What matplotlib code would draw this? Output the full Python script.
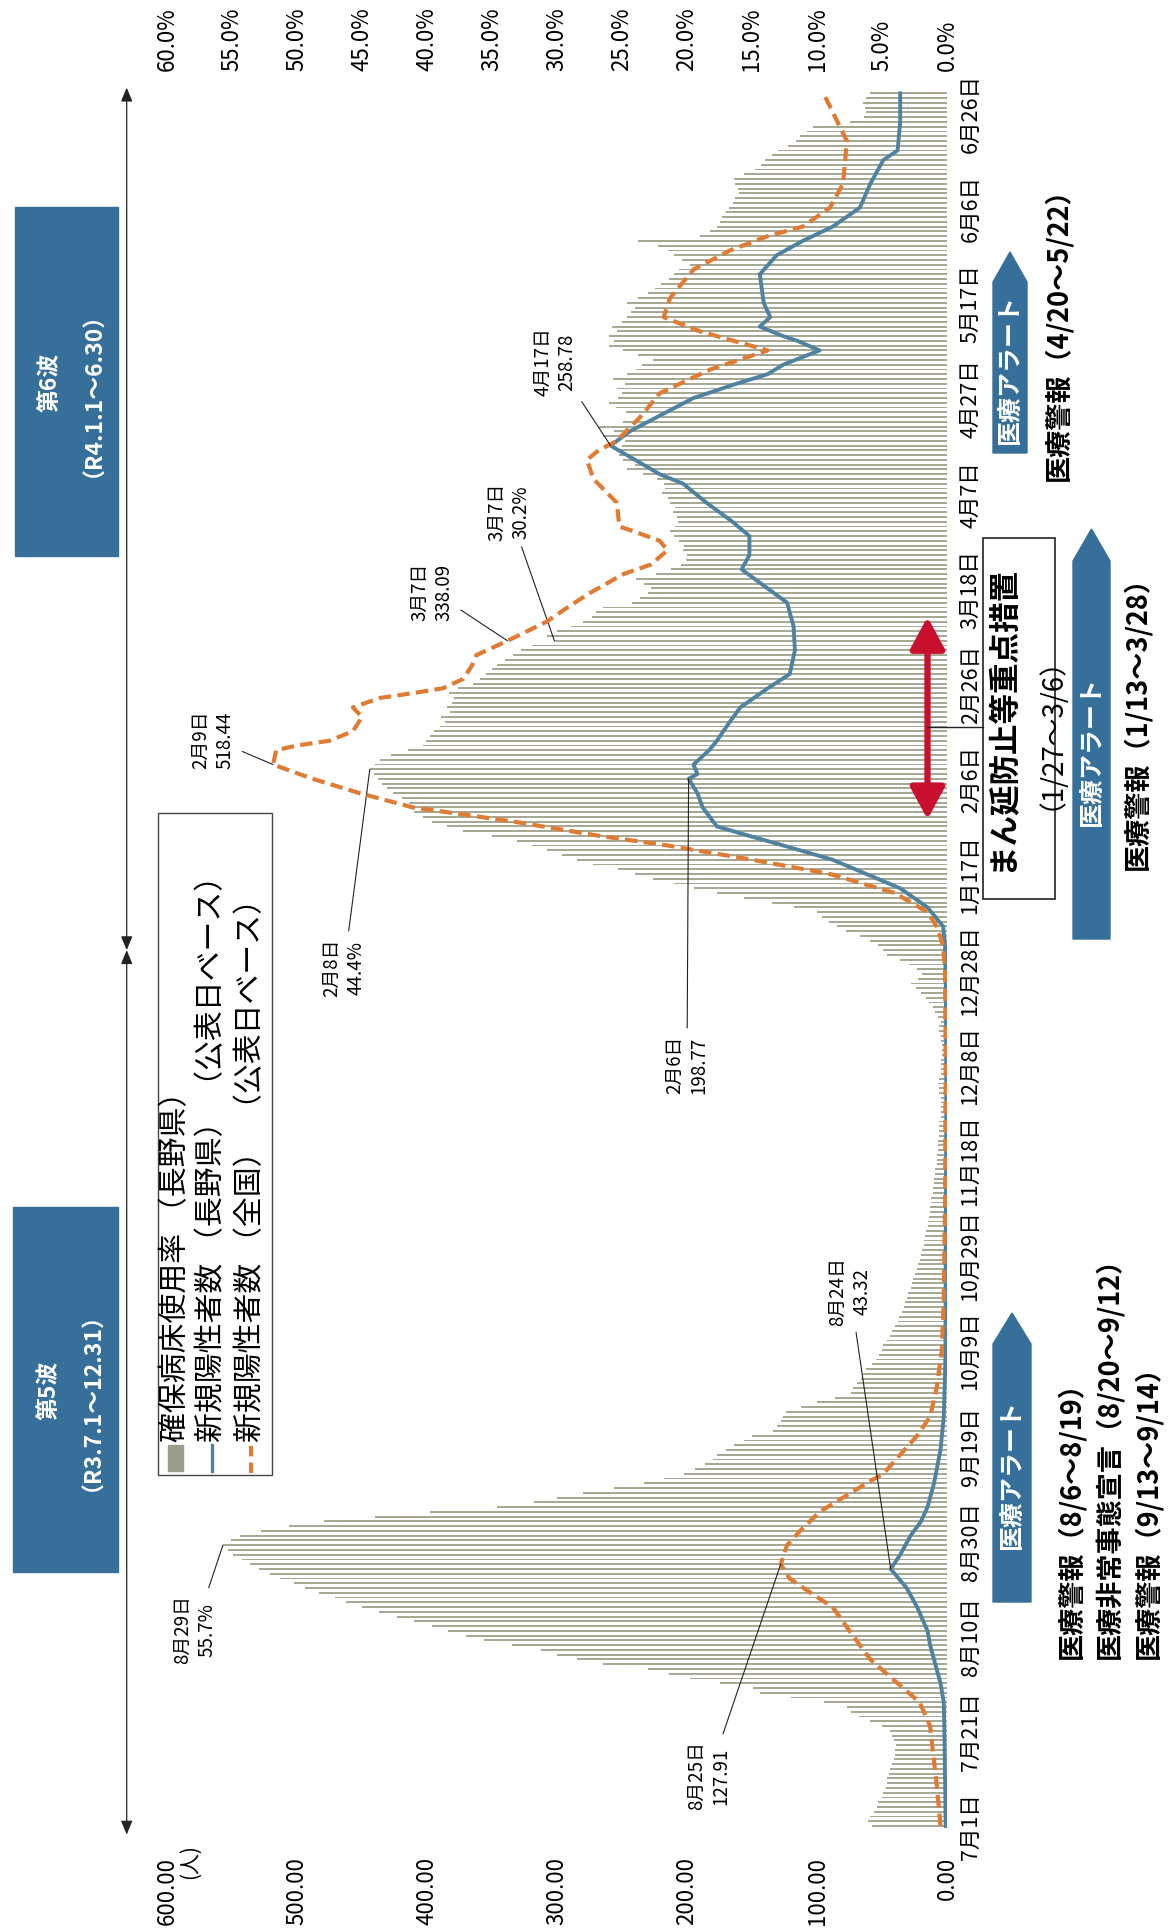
import numpy as np
import matplotlib
matplotlib.use("Agg")
import matplotlib.pyplot as plt
from matplotlib.patches import Polygon, Rectangle, ArrowStyle
from matplotlib.lines import Line2D

plt.rcParams['font.family'] = ['Noto Sans CJK JP', 'DejaVu Sans']

# ---- data (day 0 = 2021-07-01) ----
tick_days = list(range(0, 361, 20))
tick_labels = ['7月1日', '7月21日', '8月10日', '8月30日', '9月19日', '10月9日',
               '10月29日', '11月18日', '12月8日', '12月28日', '1月17日', '2月6日',
               '2月26日', '3月18日', '4月7日', '4月27日', '5月17日', '6月6日', '6月26日']

# 確保病床使用率 (%), daily
bed_rate = [
    5.8, 6.1, 5.9, 5.6, 5.4, 5.3, 5.0, 4.9, 4.7, 4.6,
    4.6, 4.5, 4.4, 4.2, 4.1, 4.0, 4.0, 3.9, 4.1, 4.2,
    4.4, 5.0, 5.9, 6.8, 7.4, 7.7, 9.5, 12.0, 14.4, 14.9,
    17.5, 19.8, 21.4, 23.0, 26.5, 28.5, 30.0, 31.2, 33.5, 35.6,
    37.0, 38.4, 39.6, 41.0, 42.3, 43.7, 45.0, 46.2, 47.1, 48.3,
    49.4, 50.2, 51.3, 52.1, 52.9, 53.6, 54.2, 54.9, 55.3, 55.7,
    55.1, 54.4, 52.8, 50.6, 47.9, 44.0, 39.8, 34.6, 31.8, 30.0,
    28.0, 25.6, 23.3, 21.8, 20.2, 19.4, 18.6, 18.0, 17.7, 17.0,
    16.4, 15.6, 15.0, 13.4, 13.1, 12.8, 12.6, 12.4, 11.2, 10.0,
    8.6, 7.4, 7.2, 6.9, 6.6, 6.5, 6.2, 5.8, 5.5, 5.2,
    5.0, 4.9, 4.6, 4.4, 4.2, 4.0, 3.8, 3.7, 3.5, 3.3,
    3.2, 3.1, 3.0, 2.8, 2.7, 2.6, 2.5, 2.3, 2.2, 2.1,
    2.0, 1.9, 1.8, 1.8, 1.7, 1.6, 1.5, 1.5, 1.4, 1.3,
    1.3, 1.2, 1.2, 1.1, 1.1, 1.0, 1.0, 0.9, 0.9, 0.8,
    0.8, 0.8, 0.7, 0.7, 0.7, 0.6, 0.6, 0.6, 0.6, 0.5,
    0.5, 0.5, 0.5, 0.5, 0.6, 0.6, 0.7, 0.6, 0.5, 0.5,
    0.5, 0.5, 0.4, 0.4, 0.4, 0.5, 0.5, 0.6, 0.6, 0.5,
    0.7, 0.9, 1.1, 1.4, 1.6, 2.0, 2.4, 2.8, 2.2, 1.9,
    2.3, 2.9, 3.6, 4.6, 4.9, 5.3, 5.9, 6.7, 7.8, 8.5,
    9.1, 9.6, 10.0, 11.8, 13.5, 15.6, 17.7, 19.5, 21.0, 22.6,
    24.0, 25.3, 27.2, 28.5, 29.6, 30.8, 31.9, 33.1, 35.0, 37.2,
    38.5, 39.6, 40.3, 41.0, 41.2, 41.4, 41.9, 42.6, 43.1, 43.5,
    43.8, 44.1, 44.4, 44.0, 43.6, 42.8, 41.5, 40.3, 40.1, 39.8,
    39.5, 39.0, 38.6, 38.9, 38.2, 38.5, 38.1, 37.9, 38.3, 37.6,
    36.5, 35.9, 35.5, 35.0, 34.6, 34.0, 33.4, 32.8, 31.9, 30.2,
    30.8, 30.0, 28.9, 28.0, 27.3, 27.0, 26.5, 24.2, 23.6, 23.0,
    22.8, 23.3, 23.9, 22.4, 21.2, 20.5, 20.1, 20.0, 20.3, 20.2,
    20.6, 21.0, 21.3, 20.9, 20.7, 20.8, 21.1, 20.9, 21.3, 21.5,
    21.9, 21.7, 21.8, 22.3, 23.4, 24.6, 24.0, 24.9, 25.2, 25.4,
    25.0, 24.8, 26.5, 25.6, 26.8, 24.9, 22.0, 24.7, 25.5, 26.0,
    25.3, 25.0, 25.4, 24.8, 25.7, 24.6, 23.9, 23.5, 22.6, 23.8,
    24.9, 26.0, 25.6, 26.0, 25.4, 25.8, 25.0, 24.6, 24.3, 24.0,
    24.6, 23.8, 23.0, 22.5, 22.0, 21.4, 21.0, 20.6, 19.8, 20.4,
    21.0, 21.5, 22.2, 23.8, 19.0, 18.2, 17.7, 17.5, 17.3, 17.0,
    16.8, 16.5, 16.3, 16.0, 16.1, 16.3, 16.4, 15.6, 14.8, 14.3,
    14.0, 13.5, 13.0, 12.2, 11.6, 11.3, 10.8, 10.3, 7.5, 6.4,
    6.2, 6.3, 6.5, 6.2, 5.9,
]

# 新規陽性者数（長野県）readings
nagano_days = [0, 10, 20, 26, 30, 34, 38, 41, 46, 50, 54, 57, 61, 64, 67, 72, 79, 86,
               95, 100, 120, 150, 175, 185, 189, 193, 197, 200, 203, 206, 208, 210,
               214, 217, 220, 221, 223, 226, 228, 232, 235, 239, 242, 247, 252, 257,
               260, 264, 267, 271, 274, 278, 282, 284, 290, 293, 296, 300, 303, 305,
               307, 310, 312, 313, 315, 317, 320, 326, 330, 333, 336, 340, 345, 350,
               352, 358, 364]
nagano_vals = [1, 1.5, 2, 2.5, 5, 9, 13, 15, 23, 31, 43.32, 36, 28, 20, 15, 10, 5, 2.5,
               1.5, 1.2, 1, 0.5, 0.8, 1.5, 3, 15, 36, 62, 88, 126, 152, 177,
               188, 192, 198.77, 192, 195, 183, 177, 167, 159, 138, 121, 117, 118, 123,
               138, 158, 152, 152, 165, 185, 203, 221, 258.78, 244, 223, 195, 162, 138,
               126, 98, 115, 126, 144, 136, 141, 144, 131, 111, 88, 67, 59, 49,
               38, 36, 36]

# 新規陽性者数（全国）readings
japan_days = [0, 9, 16, 21, 26, 30, 35, 41, 46, 49, 52, 55, 59, 62, 66, 69, 72, 74, 78,
              82, 86, 92, 100, 110, 130, 160, 180, 185, 189, 192, 196, 200, 203, 206,
              208, 211, 214, 217, 220, 223, 226, 227, 228, 230, 233, 235, 237, 238, 239,
              241, 244, 246, 249, 253, 256, 259, 263, 265, 268, 270, 272, 273, 278, 283,
              287, 289, 291, 296, 301, 306, 310, 314, 317, 321, 327, 331, 334, 336, 340,
              345, 354, 364]
japan_vals = [5, 8, 11, 13, 21, 38, 59, 75, 88, 105, 121, 127.91, 123, 113, 98, 80, 62, 49, 36,
              23, 13, 8, 4, 2.5, 1.5, 1, 1.5, 3, 8, 15, 40, 90, 150, 215,
              267, 333, 411, 452, 488, 518.44, 516, 500, 475, 457, 450, 457, 436, 411, 388,
              372, 365, 362, 338.09, 308, 292, 275, 249, 228, 215, 221, 241, 252, 254, 272,
              277, 268, 254, 236, 221, 182, 138, 190, 218, 213, 195, 167, 138, 111, 90,
              80, 77, 95]

# ---- layout helpers (pixel coords of the 1168x1933 page) ----
W, H = 1168, 1933
BLUE_BOX = '#36709a'
BAR_C = '#a6a994'
NAGANO_C = '#4f82a0'
JAPAN_C = '#e07b33'


def fp(x, y):
    return (x / W, 1 - y / H)


fig = plt.figure(figsize=(W / 100, H / 100), dpi=100)
ax = fig.add_axes([167 / W, 1 - 1829.4 / H, 780 / W, (1829.4 - 92) / H])
ax2 = ax.twiny()

# bars: bed occupancy (%), top scale
days = np.arange(len(bed_rate))
ax.barh(days, bed_rate, height=0.4, color=BAR_C, zorder=2)
ax.set_xlim(60, 0)
ax.set_ylim(-0.5, 364.5)
ax.xaxis.tick_top()
ax.set_xticks(np.arange(0, 61, 5))
ax.set_xticklabels(['{:.1f}%'.format(v) for v in np.arange(0, 61, 5)],
                   rotation=90, fontsize=16)
ax.set_xticks(np.arange(0, 61, 10), minor=True)
ax.tick_params(axis='x', which='both', length=0, pad=15)
ax.grid(which='minor', axis='x', color='#e3e1c4', lw=0.9, zorder=1)
ax.set_axisbelow(True)
ax.yaxis.tick_right()
ax.set_yticks(tick_days)
ax.set_yticklabels(tick_labels, rotation=90, va='center', fontsize=15.5)
ax.tick_params(axis='y', length=0, pad=9)

# lines: new positives, bottom scale
ax2.plot(nagano_vals, nagano_days, color=NAGANO_C, lw=2.8, zorder=4)
ax2.plot(japan_vals, japan_days, color=JAPAN_C, lw=3, ls=(0, (3, 1.5)), zorder=5)
ax2.set_xlim(600, 0)
ax2.xaxis.tick_bottom()
ax2.set_xticks(np.arange(0, 601, 100))
ax2.set_xticklabels(['{:.2f}'.format(v) for v in np.arange(0, 601, 100)],
                    rotation=90, fontsize=16)
ax2.tick_params(axis='x', length=0, pad=20)
for a in (ax, ax2):
    for s in a.spines.values():
        s.set_visible(False)

fig.text(*fp(190, 1862), '(人)', rotation=90, ha='center', va='center', fontsize=15)

# wave range arrows on the left
astyle = ArrowStyle('<|-|>', head_length=0.6, head_width=0.25)
for y0, y1 in ((184, 365.2), (184, -1.8)):
    ax2.annotate('', xy=(631, y1), xytext=(631, y0), annotation_clip=False,
                 arrowprops=dict(arrowstyle=astyle, color='#222222', lw=0.9,
                                 mutation_scale=14, shrinkA=0, shrinkB=0))

# wave boxes
for (x0, y0, x1, y1), txt in (((15, 208, 118, 557), '第6波\n（R4.1.1～6.30）'),
                              ((13, 1208, 118, 1573), '第5波\n（R3.7.1～12.31）')):
    fig.patches.append(Rectangle(fp(x0, y1), (x1 - x0) / W, (y1 - y0) / H,
                                 transform=fig.transFigure, color=BLUE_BOX))
    fig.text(*fp((x0 + x1) / 2, (y0 + y1) / 2), txt, rotation=90, ha='center',
             va='center', ma='center', color='white', fontsize=16.5, fontweight='bold',
             linespacing=1.5)

# legend (drawn by hand, rotated)
fig.patches.append(Rectangle(fp(158, 1476), 114 / W, 662 / H, transform=fig.transFigure,
                             fill=False, ec='#444444', lw=1))
fig.patches.append(Rectangle(fp(168, 1472), 15 / W, 26 / H, transform=fig.transFigure,
                             color='#9a9d88'))
fig.lines.append(Line2D([212 / W, 212 / W], [1 - 1472 / H, 1 - 1446 / H],
                        transform=fig.transFigure, color=NAGANO_C, lw=2.4))
fig.lines.append(Line2D([251 / W, 251 / W], [1 - 1474 / H, 1 - 1444 / H],
                        transform=fig.transFigure, color=JAPAN_C, lw=3,
                        ls=(0, (2.5, 1.5))))
for x, txt in ((176, '確保病床使用率 （長野県）'),
               (212, '新規陽性者数 （長野県） （公表日ベース）'),
               (251, '新規陽性者数 （全国）  （公表日ベース）')):
    fig.text(*fp(x, 1442), txt, rotation=90, ha='center', va='bottom', fontsize=21.5)

# callouts
notes = [
    (ax, 55.7, 59, (195, 1630), '8月29日\n55.7%'),
    (ax2, 127.91, 55, (709, 1776), '8月25日\n127.91'),
    (ax2, 43.32, 54, (850, 1292), '8月24日\n43.32'),
    (ax2, 198.77, 220, (687, 1065), '2月6日\n198.77'),
    (ax, 44.4, 222, (344, 968), '2月8日\n44.4%'),
    (ax2, 518.44, 223, (213, 740), '2月9日\n518.44'),
    (ax2, 338.09, 249, (432, 592), '3月7日\n338.09'),
    (ax, 30.2, 249, (509, 512), '3月7日\n30.2%'),
    (ax2, 258.78, 290, (555, 362), '4月17日\n258.78'),
]
for a, v, d, (px, py), txt in notes:
    a.annotate(txt, xy=(v, d), xytext=fp(px, py), textcoords='figure fraction',
               rotation=90, ha='center', va='center', ma='center', fontsize=13.5,
               annotation_clip=False, zorder=6,
               arrowprops=dict(arrowstyle='-', color='#222222', lw=0.8,
                               shrinkA=3, shrinkB=0))

# まん延防止等重点措置 period arrow + box
ax2.annotate('', xy=(15, 211.5), xytext=(15, 254), annotation_clip=False,
             arrowprops=dict(arrowstyle=ArrowStyle('<|-|>', head_length=0.7, head_width=0.38),
                             color='#c8102e', lw=4.5, mutation_scale=28,
                             shrinkA=0, shrinkB=0))
fig.lines.append(Line2D([927 / W, 983 / W], [1 - 728 / H, 1 - 728 / H],
                        transform=fig.transFigure, color='#222222', lw=1))
fig.patches.append(Rectangle(fp(983, 900), 72 / W, 361 / H, transform=fig.transFigure,
                             fill=False, ec='#222222', lw=1.2))
fig.text(*fp(1002, 719), 'まん延防止等重点措置', rotation=90, ha='center', va='center',
         fontsize=22, fontweight='bold')
fig.text(*fp(1037, 719), '（1/27～3/6）', rotation=90, ha='center', va='center',
         fontsize=20)


# 医療アラート arrows
def alert(x0, x1, tip, shoulder, base):
    xc = (x0 + x1) / 2
    pts = [fp(x0, base), fp(x1, base), fp(x1, shoulder), fp(xc, tip), fp(x0, shoulder)]
    fig.patches.append(Polygon(pts, closed=True, transform=fig.transFigure,
                               color=BLUE_BOX))
    fig.text(*fp(xc, (shoulder + base) / 2), '医療アラート', rotation=90, ha='center',
             va='center', color='white', fontsize=18, fontweight='bold')


alert(993, 1031, 1314, 1345, 1603)
alert(1073, 1110, 530, 562, 940)
alert(993, 1027, 253, 283, 454)

for x, y, txt in ((1071, 1659, '医療警報（8/6～8/19）'),
                  (1110, 1659, '医療非常事態宣言（8/20～9/12）'),
                  (1148, 1659, '医療警報（9/13～9/14）'),
                  (1137, 870, '医療警報（1/13～3/28）'),
                  (1058, 481, '医療警報（4/20～5/22）')):
    fig.text(*fp(x, y), txt, rotation=90, ha='center', va='bottom', fontsize=19.5,
             fontweight='bold')

fig.savefig('out.png', dpi=100)
